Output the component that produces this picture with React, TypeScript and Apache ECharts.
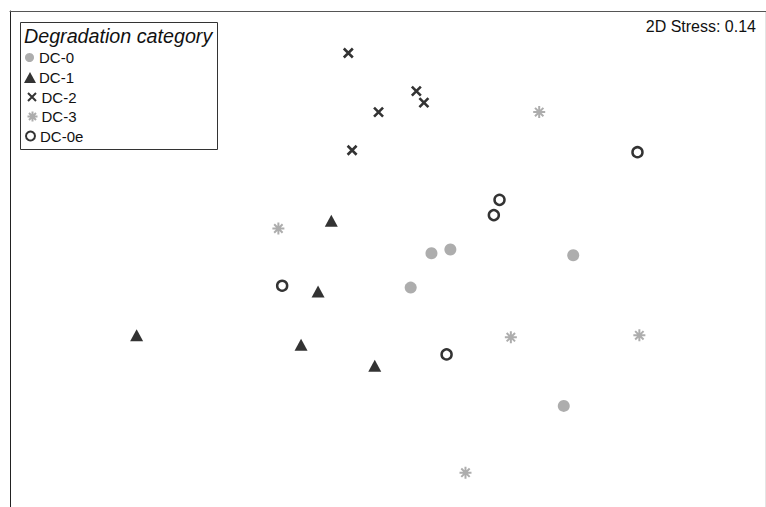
import React, { useEffect, useRef } from "react";
import * as echarts from "echarts";

const categories = ["DC-0", "DC-1", "DC-2", "DC-3", "DC-0e"];

const dc0: [number, number][] = [
  [0.23, 0.03], [0.33, 0.05], [0.98, 0.02], [0.12, -0.15], [0.93, -0.77],
];
const dc1: [number, number][] = [
  [-0.3, 0.2], [-0.37, -0.17], [-1.33, -0.4], [-0.46, -0.45], [-0.07, -0.56],
];
const dc2: [number, number][] = [
  [-0.21, 1.08], [-0.05, 0.77], [0.15, 0.88], [0.19, 0.82], [-0.19, 0.57],
];
const dc3: [number, number][] = [
  [0.8, 0.77], [-0.58, 0.16], [0.65, -0.41], [1.33, -0.4], [0.41, -1.12],
];
const dc0e: [number, number][] = [
  [1.32, 0.56], [0.59, 0.31], [0.56, 0.23], [-0.56, -0.14], [0.31, -0.5],
];

const stressLabel = "2D Stress: 0.14";
const legendTitle = "Degradation category";

const CROSS = "path://M0,0L10,10M10,0L0,10";
const STAR = "path://M5,0L5,10M0,5L10,5M1.5,1.5L8.5,8.5M8.5,1.5L1.5,8.5";

export default function App() {
  const ref = useRef<HTMLDivElement>(null);
  useEffect(() => {
    if (!ref.current) return;
    const chart = echarts.init(ref.current, undefined, { renderer: "svg" });
    const font = "Liberation Sans, Arial, Helvetica, sans-serif";
    const rowCenters = [57, 77, 96.5, 116, 135.5];
    const legendIcons = [
      { icon: "circle", w: 9, h: 9, left: 25 },
      { icon: "triangle", w: 12, h: 11, left: 24 },
      { icon: CROSS, w: 8, h: 8, left: 25.5 },
      { icon: STAR, w: 10, h: 10, left: 25 },
      { icon: "circle", w: 9, h: 9, left: 25 },
    ];
    const textX = 39;
    const legends = categories.map((c, i) => ({
      orient: "vertical",
      left: legendIcons[i].left,
      top: rowCenters[i] - 7,
      itemWidth: legendIcons[i].w,
      itemHeight: legendIcons[i].h,
      itemGap: 0,
      padding: 0,
      selectedMode: false,
      textStyle: {
        fontFamily: font,
        fontSize: 15,
        color: "#111",
        lineHeight: 14,
        padding: [0, 0, 0, textX - (legendIcons[i].left + legendIcons[i].w + 5)],
      },
      data: [{ name: c, icon: legendIcons[i].icon }],
    }));
    chart.setOption({
      animation: false,
      backgroundColor: "#ffffff",
      grid: { left: 10, top: 11, right: 0, bottom: 0, containLabel: false },
      xAxis: {
        type: "value",
        min: -2,
        max: 2,
        position: "top",
        axisLine: { show: true, onZero: false, lineStyle: { color: "#555", width: 1 } },
        axisTick: { show: false },
        axisLabel: { show: false },
        splitLine: { show: false },
      },
      yAxis: {
        type: "value",
        min: -1.3,
        max: 1.3,
        position: "left",
        axisLine: { show: true, onZero: false, lineStyle: { color: "#222", width: 1 } },
        axisTick: { show: false },
        axisLabel: { show: false },
        splitLine: { show: false },
      },
      legend: legends,
      graphic: [
        {
          type: "rect",
          shape: { x: 20.5, y: 22.5, width: 197, height: 127 },
          style: { fill: "none", stroke: "#333", lineWidth: 1 },
          silent: true,
        },
        {
          type: "text",
          x: 24,
          y: 26,
          style: {
            text: legendTitle,
            font: "italic 19.7px " + font,
            fill: "#111",
          },
        },
        {
          type: "text",
          right: 10,
          y: 18,
          style: { text: stressLabel, font: "16px " + font, fill: "#111" },
        },
        {
          type: "line",
          shape: { x1: 765.5, y1: 11, x2: 765.5, y2: 507 },
          style: { stroke: "#e4e4e4", lineWidth: 1 },
        },
      ],
      series: [
        {
          name: categories[0],
          type: "scatter",
          data: dc0,
          symbol: "circle",
          symbolSize: 12,
          itemStyle: { color: "#999999" },
        },
        {
          name: categories[1],
          type: "scatter",
          data: dc1,
          symbol: "triangle",
          symbolSize: [13, 12],
          itemStyle: { color: "#000000" },
        },
        {
          name: categories[2],
          type: "scatter",
          data: dc2,
          symbol: CROSS,
          symbolSize: 9,
          itemStyle: { color: "none", borderColor: "#000", borderWidth: 2.6 },
        },
        {
          name: categories[3],
          type: "scatter",
          data: dc3,
          symbol: STAR,
          symbolSize: 12,
          itemStyle: { color: "none", borderColor: "#999999", borderWidth: 2 },
        },
        {
          name: categories[4],
          type: "scatter",
          data: dc0e,
          symbol: "circle",
          symbolSize: 10,
          itemStyle: { color: "#ffffff", borderColor: "#000", borderWidth: 2.5 },
        },
      ],
    });
    return () => chart.dispose();
  }, []);
  return (
    <div
      ref={ref}
      style={{ position: "fixed", left: 0, top: 0, width: 766, height: 507, background: "#fff" }}
    />
  );
}
